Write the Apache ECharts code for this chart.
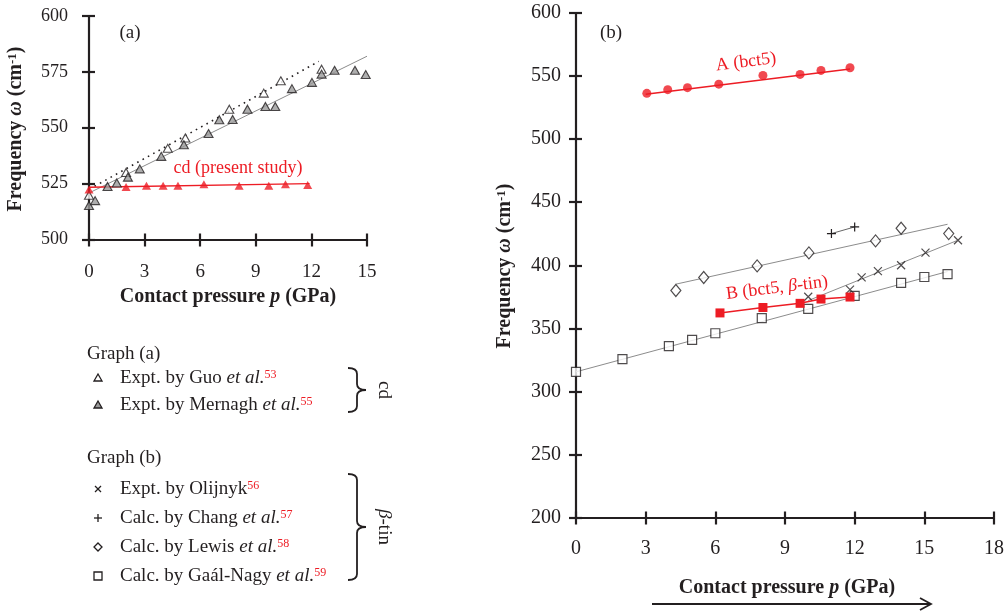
<!DOCTYPE html>
<html>
<head>
<meta charset="utf-8">
<script src="https://cdn.jsdelivr.net/npm/echarts@6/dist/echarts.min.js"></script>
<style>html,body{margin:0;padding:0;background:#fff}#c{width:1007px;height:614px}</style>
</head>
<body>
<div id="c"></div>
<script>
// ---------- DATA ----------
// Panel (a): cd-Si
const cdP = [0, 2.0, 3.1, 4.0, 4.8, 6.2, 8.1, 9.7, 10.6, 11.8];
const cdW = [522.4, 523.5, 524.0, 524.0, 524.0, 524.7, 524.0, 524.0, 524.7, 524.4];
const cdFitP = [0, 11.9];
const cdFitW = [523.4, 525.0];

const guoP = [0, 2.0, 4.25, 5.2, 7.57, 9.43, 10.35, 12.55];
const guoW = [519.8, 530.0, 540.8, 545.4, 558.3, 565.5, 571.0, 576.2];
const guoFitP = [0.3, 12.4];
const guoFitW = [523.8, 579.7];

const mernaghP = [0, 0.33, 1.0, 1.5, 2.1, 2.74, 3.9, 5.12, 6.45, 7.03, 7.75, 8.55, 9.52, 10.05, 10.95, 12.03, 12.55, 13.25, 14.35, 14.93];
const mernaghW = [515.2, 517.4, 523.7, 525.3, 527.9, 531.6, 537.2, 542.4, 547.4, 553.6, 553.7, 558.3, 559.5, 559.5, 567.5, 570.3, 574.0, 575.7, 575.7, 573.8];
const mernaghFitP = [0, 15];
const mernaghFitW = [520.8, 582.0];

// Panel (b)
const aP = [3.05, 3.95, 4.8, 6.15, 8.05, 9.65, 10.55, 11.8];
const aW = [536.3, 539.2, 540.8, 543.6, 550.5, 551.3, 554.5, 556.6];
const aFitP = [3.0, 11.8];
const aFitW = [535.6, 555.6];

const bP = [6.2, 8.05, 9.65, 10.55, 11.8];
const bW = [362.2, 366.5, 369.8, 373.2, 374.8];

const olijnykP = [10.0, 11.8, 12.3, 13.0, 14.0, 15.05, 16.45];
const olijnykW = [375.0, 380.7, 390.4, 395.4, 400.0, 410.0, 419.8];
const olijnykFitP = [10.0, 16.4];
const olijnykFitW = [372.0, 419.5];

const changP = [11.0, 12.0];
const changW = [425.1, 430.4];

const lewisP = [4.3, 5.5, 7.8, 10.03, 12.9, 14.0, 16.05];
const lewisW = [380.0, 390.3, 399.5, 409.8, 419.3, 429.3, 425.1];
const lewisFitP = [4.3, 16.0];
const lewisFitW = [385.0, 432.5];

const gaalP = [0, 2, 4, 5, 6, 8, 10, 12, 14, 15, 16];
const gaalW = [315.4, 325.5, 335.8, 340.8, 346.1, 358.0, 365.4, 375.7, 386.0, 390.7, 392.9];
const gaalFitP = [0, 16];
const gaalFitW = [315.5, 395.0];

// Axis settings
const axA_x = {min: 0, max: 15, interval: 3};
const axA_y = {min: 500, max: 600, interval: 25};
const axB_x = {min: 0, max: 18, interval: 3};
const axB_y = {min: 200, max: 600, interval: 50};

// ---------- STYLE ----------
const FONT = 'Liberation Serif';
const INK = '#231f20';
const RED = '#ed1c24';
const GRAY = '#8c8c8c';
const zip = (xs, ys) => xs.map((x, i) => [x, ys[i]]);
const CROSS = 'path://M0,0L10,10M10,0L0,10';
const PLUS = 'path://M5,0L5,10M0,5L10,5';

function mainAxis(grid, rng, pos, margin, fs) {
  return Object.assign({
    gridIndex: grid, type: 'value', position: pos,
    axisLine: {show: true, onZero: false, lineStyle: {color: INK, width: 2.2}},
    axisTick: {show: true, length: 7, lineStyle: {color: INK, width: 2.2}},
    axisLabel: {color: INK, fontFamily: FONT, fontSize: fs, margin: margin},
    splitLine: {show: false}
  }, rng);
}
function innerAxis(grid, rng, pos) {
  return Object.assign({
    gridIndex: grid, type: 'value', position: pos,
    axisLine: {show: false},
    axisTick: {show: true, inside: true, length: 6, lineStyle: {color: INK, width: 2.2}},
    axisLabel: {show: false},
    splitLine: {show: false}
  }, rng);
}

const option = {
  animation: false,
  backgroundColor: '#fff',
  grid: [
    {left: 89, top: 16, width: 278, height: 223.5},
    {left: 576, top: 13, width: 420, height: 504.5}
  ],
  xAxis: [
    mainAxis(0, axA_x, 'bottom', 23, 19),
    innerAxis(0, axA_x, 'bottom'),
    mainAxis(1, axB_x, 'bottom', 21, 20),
    innerAxis(1, axB_x, 'bottom')
  ],
  yAxis: [
    mainAxis(0, axA_y, 'left', 21, 18),
    innerAxis(0, axA_y, 'left'),
    mainAxis(1, axB_y, 'left', 15, 20),
    innerAxis(1, axB_y, 'left')
  ],
  series: [
    // ---- panel (a)
    {type: 'line', xAxisIndex: 0, yAxisIndex: 0, data: zip(mernaghFitP, mernaghFitW), symbol: 'none', lineStyle: {color: GRAY, width: 1}, z: 2},
    {type: 'line', xAxisIndex: 0, yAxisIndex: 0, data: zip(guoFitP, guoFitW), symbol: 'none', lineStyle: {color: INK, width: 1.6, type: [1.6, 4.5]}, z: 2},
    {type: 'line', xAxisIndex: 0, yAxisIndex: 0, data: zip(cdFitP, cdFitW), symbol: 'none', lineStyle: {color: RED, width: 1.5}, z: 3},
    {type: 'scatter', xAxisIndex: 0, yAxisIndex: 0, data: zip(guoP, guoW), symbol: 'triangle', symbolSize: [9, 8], itemStyle: {color: '#fff', borderColor: INK, borderWidth: 1.1}, z: 4},
    {type: 'scatter', xAxisIndex: 0, yAxisIndex: 0, data: zip(mernaghP, mernaghW), symbol: 'triangle', symbolSize: [9, 8], itemStyle: {color: '#9a9a9a', borderColor: INK, borderWidth: 1.1}, z: 5},
    {type: 'scatter', xAxisIndex: 0, yAxisIndex: 0, data: zip(cdP, cdW), symbol: 'triangle', symbolSize: [9, 8], itemStyle: {color: RED}, z: 6},
    // ---- panel (b)
    {type: 'line', xAxisIndex: 2, yAxisIndex: 2, data: zip(aFitP, aFitW), symbol: 'none', lineStyle: {color: RED, width: 1.5}, z: 3},
    {type: 'scatter', xAxisIndex: 2, yAxisIndex: 2, data: zip(aP, aW), symbol: 'circle', symbolSize: 9, itemStyle: {color: RED}, z: 6},
    {type: 'line', xAxisIndex: 2, yAxisIndex: 2, data: zip(gaalFitP, gaalFitW), symbol: 'none', lineStyle: {color: GRAY, width: 1}, z: 2},
    {type: 'line', xAxisIndex: 2, yAxisIndex: 2, data: zip(lewisFitP, lewisFitW), symbol: 'none', lineStyle: {color: GRAY, width: 1}, z: 2},
    {type: 'line', xAxisIndex: 2, yAxisIndex: 2, data: zip(olijnykFitP, olijnykFitW), symbol: 'none', lineStyle: {color: GRAY, width: 1}, z: 2},
    {type: 'line', xAxisIndex: 2, yAxisIndex: 2, data: zip(changP, changW), symbol: PLUS, symbolSize: 9, showSymbol: true,
      lineStyle: {color: '#666', width: 1}, itemStyle: {color: 'rgba(0,0,0,0)', borderColor: INK, borderWidth: 1.2}, z: 4},
    {type: 'scatter', xAxisIndex: 2, yAxisIndex: 2, data: zip(gaalP, gaalW), symbol: 'rect', symbolSize: 9, itemStyle: {color: '#fff', borderColor: INK, borderWidth: 1.2}, z: 4},
    {type: 'scatter', xAxisIndex: 2, yAxisIndex: 2, data: zip(lewisP, lewisW), symbol: 'diamond', symbolSize: [10, 12], itemStyle: {color: '#fff', borderColor: INK, borderWidth: 1.2}, z: 4},
    {type: 'scatter', xAxisIndex: 2, yAxisIndex: 2, data: zip(olijnykP, olijnykW), symbol: CROSS, symbolSize: 8, itemStyle: {color: 'rgba(0,0,0,0)', borderColor: INK, borderWidth: 1.2}, z: 4},
    {type: 'line', xAxisIndex: 2, yAxisIndex: 2, data: zip(bP, bW), symbol: 'rect', symbolSize: 9, showSymbol: true,
      lineStyle: {color: RED, width: 1.5}, itemStyle: {color: RED}, z: 6}
  ],
  graphic: []
};

// ---------- TEXT / ANNOTATIONS ----------
const G = option.graphic;
function txt(x, y, text, opts) {
  opts = opts || {};
  G.push({
    type: 'text', x: x, y: y, rotation: opts.rotation || 0, z: 100,
    style: Object.assign({
      text: text, fill: INK, fontFamily: FONT, fontSize: 19,
      align: opts.align || 'left', verticalAlign: 'middle'
    }, opts.style || {})
  });
}
const supRed = {fontSize: 12, fill: RED, verticalAlign: 'top', fontFamily: FONT};
const ital = {fontStyle: 'italic', fontSize: 19, fontFamily: FONT, fill: INK};

// axis titles
const TF = 20;
const titleRich = {
  bi: {fontStyle: 'italic', fontWeight: 'bold', fontSize: TF, fontFamily: FONT, fill: INK},
  sup: {fontWeight: 'bold', fontSize: 13, fontFamily: FONT, fill: INK, verticalAlign: 'top'}
};
const xTitle = 'Contact pressure {bi|p} (GPa)';
const yTitle = 'Frequency {bi|\u03c9} (cm{sup|-1})';
const tStyle = {fontWeight: 'bold', fontSize: TF, rich: titleRich};
txt(228, 297, xTitle, {align: 'center', style: tStyle});
txt(787, 588, xTitle, {align: 'center', style: tStyle});
txt(16, 129, yTitle, {align: 'center', rotation: Math.PI / 2, style: tStyle});
txt(505, 266, yTitle, {align: 'center', rotation: Math.PI / 2, style: tStyle});

// panel labels and in-plot annotations
txt(130, 33, '(a)', {align: 'center'});
txt(611, 33, '(b)', {align: 'center'});
txt(238, 168, 'cd (present study)', {align: 'center', style: {fill: RED, fontSize: 18}});
txt(746, 62, 'A (bct5)', {align: 'center', rotation: 7 * Math.PI / 180, style: {fill: RED, fontSize: 18}});
txt(777, 288, 'B (bct5, {i|\u03b2}-tin)', {align: 'center', rotation: 7 * Math.PI / 180,
  style: {fill: RED, fontSize: 18, rich: {i: {fontStyle: 'italic', fontSize: 18, fontFamily: FONT, fill: RED}}}});

// key
const keyRich = {i: ital, s: supRed};
txt(87, 354, 'Graph (a)');
txt(120, 378, 'Expt. by Guo {i|et al.}{s|53}', {style: {rich: keyRich}});
txt(120, 405, 'Expt. by Mernagh {i|et al.}{s|55}', {style: {rich: keyRich}});
txt(87, 458, 'Graph (b)');
txt(120, 489, 'Expt. by Olijnyk{s|56}', {style: {rich: keyRich}});
txt(120, 518, 'Calc. by Chang {i|et al.}{s|57}', {style: {rich: keyRich}});
txt(120, 547, 'Calc. by Lewis {i|et al.}{s|58}', {style: {rich: keyRich}});
txt(120, 576, 'Calc. by Ga\u00e1l-Nagy {i|et al.}{s|59}', {style: {rich: keyRich}});
txt(384, 390, 'cd', {align: 'center', rotation: -Math.PI / 2});
txt(384, 527, '{i|\u03b2}-tin', {align: 'center', rotation: -Math.PI / 2, style: {rich: keyRich}});

// key symbols
const stroke = {stroke: INK, lineWidth: 1.3};
G.push({type: 'polygon', shape: {points: [[98, 374], [94, 381], [102, 381]]}, style: Object.assign({fill: '#fff'}, stroke)});
G.push({type: 'polygon', shape: {points: [[98, 401], [94, 408], [102, 408]]}, style: Object.assign({fill: '#9a9a9a'}, stroke)});
G.push({type: 'line', shape: {x1: 95, y1: 486, x2: 101, y2: 492}, style: stroke});
G.push({type: 'line', shape: {x1: 101, y1: 486, x2: 95, y2: 492}, style: stroke});
G.push({type: 'line', shape: {x1: 98, y1: 514, x2: 98, y2: 522}, style: stroke});
G.push({type: 'line', shape: {x1: 94, y1: 518, x2: 102, y2: 518}, style: stroke});
G.push({type: 'polygon', shape: {points: [[98, 543], [102, 547], [98, 551], [94, 547]]}, style: Object.assign({fill: '#fff'}, stroke)});
G.push({type: 'rect', shape: {x: 94, y: 572, width: 8, height: 8}, style: Object.assign({fill: '#fff'}, stroke)});

// braces
function brace(x0, y0, y1, w) {
  const xm = x0 + w / 2, xt = x0 + w, ym = (y0 + y1) / 2, r = 6;
  const st = {stroke: INK, lineWidth: 1.8, fill: null};
  G.push({type: 'bezierCurve', shape: {x1: x0, y1: y0, cpx1: xm, cpy1: y0, x2: xm, y2: y0 + r}, style: st});
  G.push({type: 'line', shape: {x1: xm, y1: y0 + r, x2: xm, y2: ym - r}, style: st});
  G.push({type: 'bezierCurve', shape: {x1: xm, y1: ym - r, cpx1: xm, cpy1: ym, x2: xt, y2: ym}, style: st});
  G.push({type: 'bezierCurve', shape: {x1: xt, y1: ym, cpx1: xm, cpy1: ym, x2: xm, y2: ym + r}, style: st});
  G.push({type: 'line', shape: {x1: xm, y1: ym + r, x2: xm, y2: y1 - r}, style: st});
  G.push({type: 'bezierCurve', shape: {x1: xm, y1: y1 - r, cpx1: xm, cpy1: y1, x2: x0, y2: y1}, style: st});
}
brace(348, 368, 412, 18);
brace(348, 474, 580, 18);

// arrow under panel (b)
G.push({type: 'line', shape: {x1: 652, y1: 604, x2: 930, y2: 604}, style: {stroke: INK, lineWidth: 1.8}});
G.push({type: 'polyline', shape: {points: [[920, 598], [931, 604], [920, 610]]}, style: {stroke: INK, lineWidth: 1.8, fill: null}});

const chart = echarts.init(document.getElementById('c'), null, {renderer: 'canvas'});
chart.setOption(option);
</script>
</body>
</html>
